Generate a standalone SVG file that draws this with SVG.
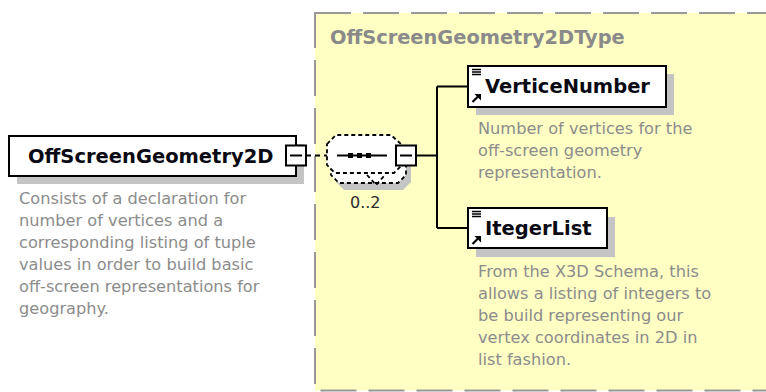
<svg xmlns="http://www.w3.org/2000/svg" width="766" height="392" viewBox="0 0 766 392">
<defs>
<style>
.name{font-family:"DejaVu Sans","Liberation Sans",sans-serif;font-weight:bold;font-size:19.5px;fill:#0a0a14}
.title{font-family:"DejaVu Sans","Liberation Sans",sans-serif;font-weight:bold;font-size:19.4px;fill:#8a8a8a}
.desc{font-family:"DejaVu Sans","Liberation Sans",sans-serif;font-size:16.2px;fill:#8c8c8c}
.occ{font-family:"DejaVu Sans","Liberation Sans",sans-serif;font-size:16px;fill:#2a2a2a}
.box{fill:#fff;stroke:#000;stroke-width:2}
.shadow{fill:#c4c4c4}
.ln{stroke:#000;stroke-width:2;fill:none}
.opt{fill:#fff;stroke:#000;stroke-width:1.8;stroke-dasharray:4 3}
</style>
<g id="icons">
<path d="M472 0.5 H481 M472 3 H481 M472 5.5 H481" stroke="#000" stroke-width="1.4" fill="none"/>
<path d="M472.5 33 L478 27.5" stroke="#000" stroke-width="2.2" fill="none"/>
<polygon points="481,25 481,31.5 474.5,25" fill="#000"/>
</g>
</defs>
<rect width="766" height="392" fill="#fff"/>
<g id="OffScreenGeometry2DType">
<rect x="315" y="13" width="480" height="377.5" fill="#FFFFC4" stroke="#999" stroke-width="2" stroke-dasharray="36 12"/>
<text class="title" x="330" y="44">OffScreenGeometry2DType</text>
</g>
<g id="connectors">
<line class="ln" x1="306" y1="155.5" x2="327" y2="155.5" stroke-dasharray="5 4"/>
<path class="ln" d="M416 155.5 H437 M437 86.5 V228 M437 86.5 H468 M437 228 H468"/>
</g>
<g id="OffScreenGeometry2D">
<rect class="shadow" x="17" y="144" width="287" height="40"/>
<rect class="box" x="9" y="136" width="287" height="40"/>
<text class="name" x="28" y="162.7">OffScreenGeometry2D</text>
<rect class="box" x="286" y="145.5" width="20" height="20"/>
<line class="ln" x1="290" y1="155.5" x2="302" y2="155.5"/>
<text class="desc" x="19" y="204">Consists of a declaration for</text>
<text class="desc" x="19" y="226">number of vertices and a</text>
<text class="desc" x="19" y="248">corresponding listing of tuple</text>
<text class="desc" x="19" y="270">values in order to build basic</text>
<text class="desc" x="19" y="292">off-screen representations for</text>
<text class="desc" x="19" y="314">geography.</text>
</g>
<g id="sequence">
<polygon class="shadow" points="336,161 345,152 400,152 411,162 411,182 403,190 344,190 336,182"/>
<polygon class="opt" points="331,154 340,145 395,145 406,155 406,175 398,183 339,183 331,175"/>
<polygon class="opt" points="327,144 336,135 391,135 402,145 402,165 394,173 335,173 327,165"/>
<polyline class="opt" fill="none" style="fill:none" points="367,175 376,185 385,175"/>
<line class="ln" x1="337" y1="155.5" x2="387" y2="155.5"/>
<rect x="348" y="153" width="5" height="5" fill="#000"/>
<rect x="357" y="153" width="5" height="5" fill="#000"/>
<rect x="366" y="153" width="5" height="5" fill="#000"/>
<rect class="box" x="396" y="145.5" width="20" height="20"/>
<line class="ln" x1="400" y1="155.5" x2="412" y2="155.5"/>
<text class="occ" x="350" y="208">0..2</text>
</g>
<g id="VerticeNumber">
<rect class="shadow" x="476" y="74" width="198" height="41"/>
<rect class="box" x="468" y="66" width="198" height="41"/>
<use href="#icons" y="69"/>
<text class="name" x="485" y="93.3">VerticeNumber</text>
<text class="desc" x="478" y="134">Number of vertices for the</text>
<text class="desc" x="478" y="156">off-screen geometry</text>
<text class="desc" x="478" y="178">representation.</text>
</g>
<g id="ItegerList">
<rect class="shadow" x="476" y="217" width="139" height="40"/>
<rect class="box" x="468" y="208" width="139" height="40"/>
<use href="#icons" y="211"/>
<text class="name" x="485" y="235">ItegerList</text>
<text class="desc" x="478" y="277">From the X3D Schema, this</text>
<text class="desc" x="478" y="299">allows a listing of integers to</text>
<text class="desc" x="478" y="321">be build representing our</text>
<text class="desc" x="478" y="343">vertex coordinates in 2D in</text>
<text class="desc" x="478" y="365">list fashion.</text>
</g>
</svg>
